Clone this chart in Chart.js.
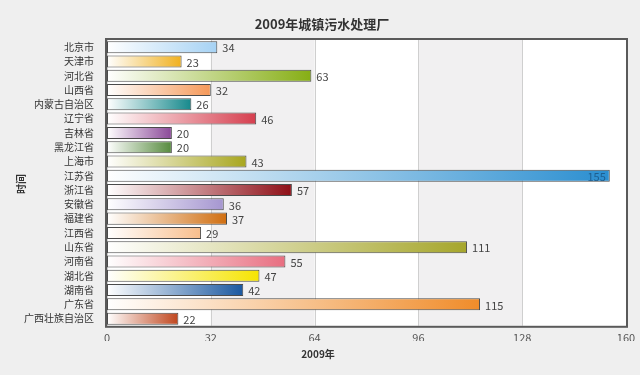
<!DOCTYPE html>
<html>
<head>
<meta charset="utf-8">
<script src="https://cdn.jsdelivr.net/npm/chart.js@4.4.1/dist/chart.umd.min.js"></script>
<style>
  html, body { margin: 0; padding: 0; background: #efefef; }
  #wrap { width: 640px; height: 375px; position: relative; }
</style>
</head>
<body>
<div id="wrap"><canvas id="c"></canvas></div>
<script>
// 数据
const provinces = ['北京市', '天津市', '河北省', '山西省', '内蒙古自治区', '辽宁省', '吉林省', '黑龙江省', '上海市', '江苏省',
    '浙江省', '安徽省', '福建省', '江西省', '山东省', '河南省', '湖北省', '湖南省', '广东省', '广西壮族自治区'];
const plants = [34, 23, 63, 32, 26, 46, 20, 20, 43, 155, 57, 36, 37, 29, 111, 55, 47, 42, 115, 22];
const barColors = ['#a6d2f4', '#f0b01e', '#86ae14', '#f59858', '#16898c', '#d63e4e', '#8a4898', '#568a3e', '#a8a61e', '#2a8ed0',
    '#8e0e16', '#a596d0', '#d06e10', '#f8be8c', '#a6a62c', '#e86e80', '#f6e400', '#1a58a0', '#f08c2a', '#c0461e'];
const xTicks = [0, 32, 64, 96, 128, 160];

const FONT = '"Noto Sans CJK SC", "DejaVu Sans", sans-serif';

// 背景条纹 (白 / 浅灰 交替)
const bandPlugin = {
    id: 'bands',
    beforeDatasetsDraw(chart) {
        const { ctx, chartArea: a, scales: { x } } = chart;
        ctx.save();
        ctx.fillStyle = '#ffffff';
        ctx.fillRect(a.left, a.top, a.right - a.left, a.bottom - a.top);
        for (let i = 0; i < xTicks.length - 1; i++) {
            if (i % 2 === 1) {
                const x0 = x.getPixelForValue(xTicks[i]);
                const x1 = x.getPixelForValue(xTicks[i + 1]);
                ctx.fillStyle = '#f1f0f1';
                ctx.fillRect(x0, a.top, x1 - x0, a.bottom - a.top);
            }
        }
        ctx.strokeStyle = '#cfcfcf';
        ctx.lineWidth = 1;
        xTicks.forEach(v => {
            const px = Math.round(x.getPixelForValue(v)) + 0.5;
            ctx.beginPath();
            ctx.moveTo(px, a.top);
            ctx.lineTo(px, a.bottom);
            ctx.stroke();
        });
        ctx.restore();
    },
    afterDatasetsDraw(chart) {
        const { ctx, chartArea: a } = chart;
        ctx.save();
        ctx.strokeStyle = '#5a5a5a';
        ctx.lineWidth = 2;
        ctx.strokeRect(a.left - 1, a.top - 1, a.right - a.left + 2, a.bottom - a.top + 2);
        ctx.restore();
    }
};

// 数值标签
const valueLabels = {
    id: 'valueLabels',
    afterDatasetsDraw(chart) {
        const { ctx, chartArea: a } = chart;
        const meta = chart.getDatasetMeta(0);
        ctx.save();
        ctx.font = '11px ' + FONT;
        ctx.textBaseline = 'middle';
        meta.data.forEach((bar, i) => {
            const txt = String(plants[i]);
            const w = ctx.measureText(txt).width;
            if (bar.x + 5 + w > a.right - 2) {
                ctx.textAlign = 'right';
                ctx.fillStyle = '#1e5f90';
                ctx.fillText(txt, bar.x - 4, bar.y + 1);
            } else {
                ctx.textAlign = 'left';
                ctx.fillStyle = '#444444';
                ctx.fillText(txt, bar.x + 5, bar.y + 1);
            }
        });
        ctx.restore();
    }
};

// 标题 (整张图居中)
const titles = {
    id: 'titles',
    afterDraw(chart) {
        const { ctx } = chart;
        ctx.save();
        ctx.fillStyle = '#333333';
        ctx.textAlign = 'center';
        ctx.textBaseline = 'middle';
        ctx.font = 'bold 13px ' + FONT;
        ctx.fillText('2009年城镇污水处理厂', 322, 24);
        ctx.font = 'bold 10px ' + FONT;
        ctx.fillText('2009年', 318, 354);
        ctx.translate(21, 184);
        ctx.rotate(-Math.PI / 2);
        ctx.fillText('时间', 0, 0);
        ctx.restore();
    }
};

new Chart(document.getElementById('c'), {
    type: 'bar',
    data: {
        labels: provinces,
        datasets: [{
            data: plants,
            backgroundColor: function(context) {
                const chart = context.chart;
                const a = chart.chartArea;
                const col = barColors[context.dataIndex];
                if (!a) return col;
                const end = chart.scales.x.getPixelForValue(plants[context.dataIndex]);
                const g = chart.ctx.createLinearGradient(a.left, 0, end, 0);
                g.addColorStop(0, '#ffffff');
                g.addColorStop(1, col);
                return g;
            },
            borderColor: '#4a4a4a',
            borderWidth: 1,
            borderSkipped: false,
            barPercentage: 0.84,
            categoryPercentage: 1
        }]
    },
    options: {
        indexAxis: 'y',
        responsive: true,
        maintainAspectRatio: false,
        animation: false,
        layout: { padding: { left: 19, right: 14, top: 40, bottom: 34 } },
        plugins: {
            legend: { display: false },
            tooltip: { enabled: false }
        },
        scales: {
            x: {
                min: 0,
                max: 160,
                afterBuildTicks: axis => { axis.ticks = xTicks.map(v => ({ value: v })); },
                grid: { display: false },
                border: { display: false },
                ticks: { color: '#555555', font: { size: 11, family: FONT }, padding: -3 }
            },
            y: {
                grid: { display: false },
                border: { display: false },
                ticks: { color: '#333333', font: { size: 10, family: FONT }, padding: 5, autoSkip: false }
            }
        }
    },
    plugins: [bandPlugin, valueLabels, titles]
});
</script>
</body>
</html>
